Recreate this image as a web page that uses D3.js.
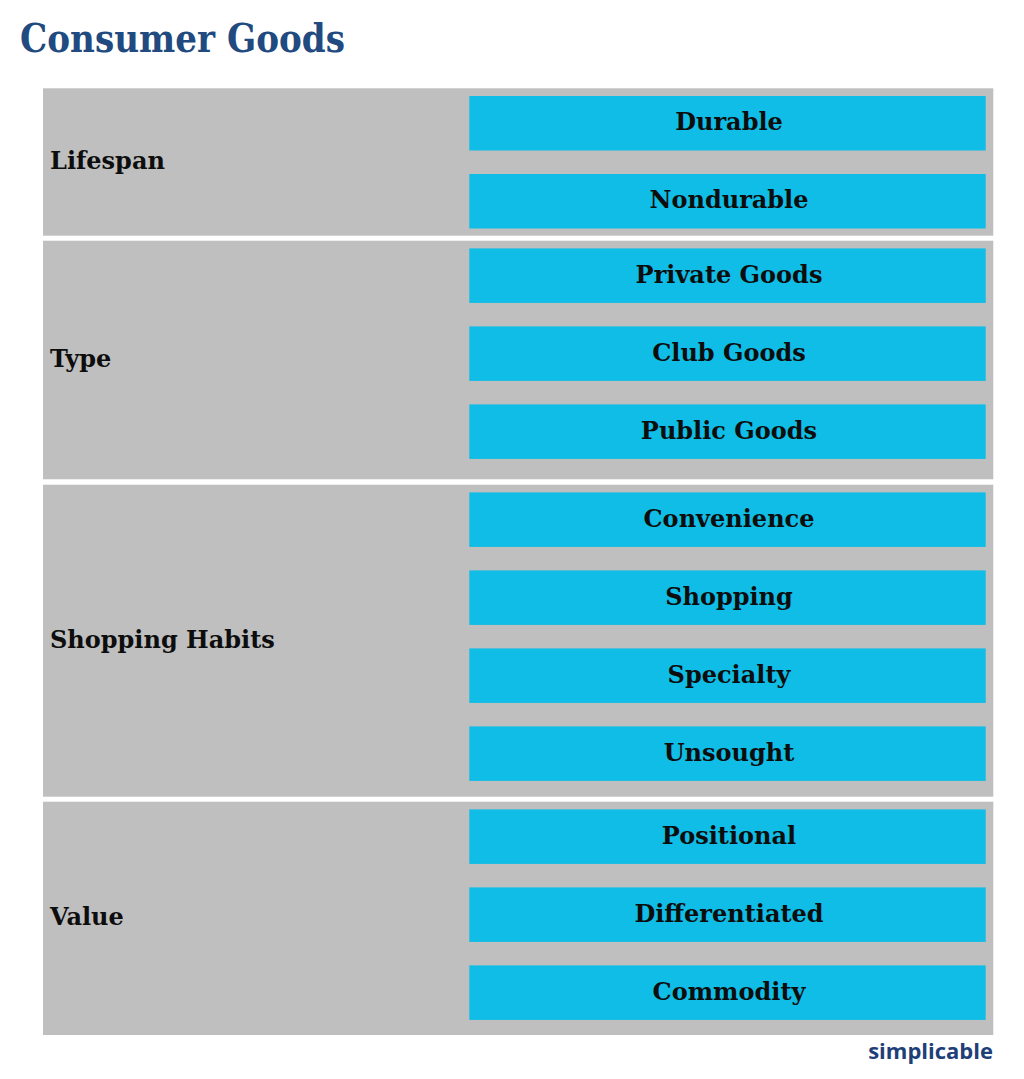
<!DOCTYPE html>
<html>
<head>
<meta charset="utf-8">
<script src="https://cdn.jsdelivr.net/npm/d3@7"></script>
<style>
  html, body { margin: 0; padding: 0; background: #ffffff; }
  svg { display: block; }
</style>
</head>
<body>
<script>
// ---- data ----
const title = "Consumer Goods";
const categories = ["Lifespan", "Type", "Shopping Habits", "Value"];
const lifespanItems = ["Durable", "Nondurable"];
const typeItems = ["Private Goods", "Club Goods", "Public Goods"];
const habitItems = ["Convenience", "Shopping", "Specialty", "Unsought"];
const valueItems = ["Positional", "Differentiated", "Commodity"];
const itemsByCategory = [lifespanItems, typeItems, habitItems, valueItems];
const credit = "simplicable";

// ---- layout ----
const W = 1024, H = 1079;
const groupLeft = 43, groupRight = 993.3;
const boxLeft = 469.3, boxRight = 985.7;
const groupTops = [88.3, 240.7, 484.7, 801.7];
const groupBottoms = [235.7, 479.3, 796.7, 1035];
const padTop = 7.7, pitch = 78, boxH = 54.5;

const colors = { gray: "#bfbfbf", blue: "#0fbde6", title: "#214a80", credit: "#1f3f78", text: "#0d0d0d" };
const serif = "'DejaVu Serif', 'Liberation Serif', serif";

const svg = d3.select("body").append("svg").attr("width", W).attr("height", H);

svg.append("text")
  .attr("x", 20).attr("y", 52)
  .attr("font-family", serif).attr("font-weight", "bold")
  .attr("font-size", 39).attr("fill", colors.title)
  .attr("textLength", 325).attr("lengthAdjust", "spacingAndGlyphs")
  .text(title);

const x = d3.scaleLinear().domain([0, 1]).range([boxLeft, boxRight]);

const groups = svg.selectAll("g.cat").data(categories.map((c, i) => ({
  name: c, items: itemsByCategory[i], top: groupTops[i], bottom: groupBottoms[i]
}))).join("g").attr("class", "cat");

groups.append("rect")
  .attr("x", groupLeft).attr("y", d => d.top)
  .attr("width", groupRight - groupLeft).attr("height", d => d.bottom - d.top)
  .attr("fill", colors.gray);

groups.append("text")
  .attr("x", 50).attr("y", d => (d.top + d.bottom) / 2 - 1.5)
  .attr("dy", "0.36em")
  .attr("font-family", serif).attr("font-weight", "bold")
  .attr("font-size", 24).attr("fill", colors.text)
  .text(d => d.name);

groups.each(function(d) {
  const g = d3.select(this);
  const y = d3.scaleLinear().domain([0, 1]).range([d.top + padTop, d.top + padTop + pitch]);
  const box = g.selectAll("g.item").data(d.items).join("g").attr("class", "item");
  box.append("rect")
    .attr("x", x(0)).attr("y", (s, i) => y(i))
    .attr("width", x(1) - x(0)).attr("height", boxH)
    .attr("fill", colors.blue);
  box.append("text")
    .attr("x", (x(0) + x(1)) / 2 + 1.5).attr("y", (s, i) => y(i) + boxH / 2 - 1.5)
    .attr("dy", "0.36em").attr("text-anchor", "middle")
    .attr("font-family", serif).attr("font-weight", "bold")
    .attr("font-size", 24).attr("fill", colors.text)
    .text(s => s);
});

svg.append("text")
  .attr("x", 993).attr("y", 1059)
  .attr("text-anchor", "end")
  .attr("font-family", "'Open Sans', 'Noto Sans', sans-serif").attr("font-weight", "bold")
  .attr("font-size", 22).attr("fill", colors.credit)
  .text(credit);
</script>
</body>
</html>
